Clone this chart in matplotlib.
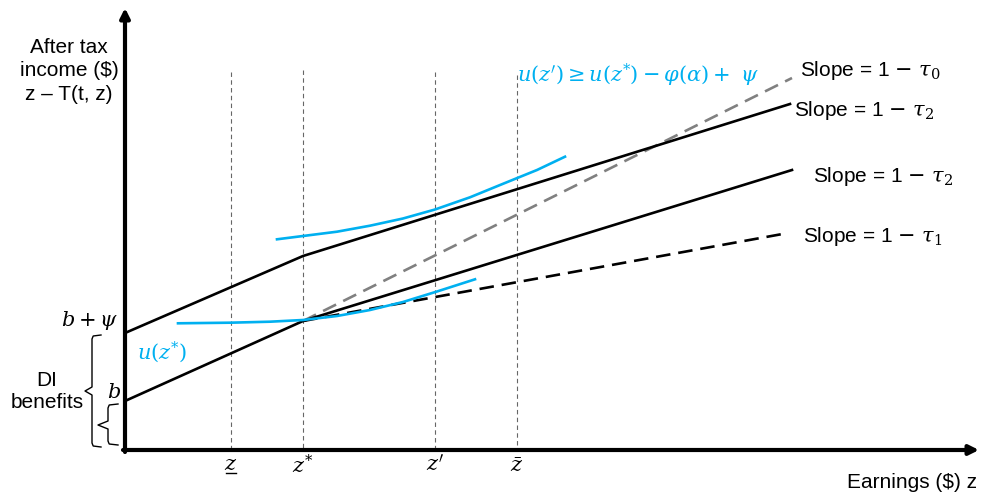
import matplotlib.pyplot as plt
import numpy as np

plt.rcParams['font.family'] = ['Liberation Sans', 'DejaVu Sans']
plt.rcParams['mathtext.fontset'] = 'dejavuserif'

BLUE = '#00b0f0'

# diagram read in pixel units (x to the right, y downward)
x_axis_left = 125
x_axis_y = 450
x_axis_tip = 979
y_axis_tip = 8

# marked earnings levels
z_marks = [231, 303, 435, 517]
z_labels = [r'$z$', r'$z^{*}$', r"$z'$", r'$\bar{z}$']
z_label_y = [464, 466, 465, 467]
z_tops = [72, 70, 72, 75]

# budget lines
upper_x = [125, 303, 790]
upper_y = [333, 256, 104]
lower_x = [125, 303, 792]
lower_y = [401, 321, 170]
tau0_x = [303, 792]
tau0_y = [321, 78]
tau1_x = [303, 788]
tau1_y = [321, 233]

# indifference curves
ic_hi_x = [277, 303, 337, 370, 403, 435, 470, 503, 537, 565]
ic_hi_y = [239.3, 236, 231.7, 225.7, 218.5, 209.5, 197.3, 183.8, 170, 156.7]
ic_lo_x = [178, 230, 270, 303, 337, 370, 403, 437, 475]
ic_lo_y = [323.3, 322.7, 321.7, 320, 316, 310, 302, 291.5, 279.3]

slope_labels = [r'Slope = 1 $-\ \tau_0$', r'Slope = 1 $-\ \tau_2$',
                r'Slope = 1 $-\ \tau_2$', r'Slope = 1 $-\ \tau_1$']
slope_x = [800, 794, 813, 803]
slope_y = [70, 110, 177, 236]

fig = plt.figure(figsize=(9.81, 5.0), dpi=100)
ax = fig.add_axes([0, 0, 1, 1])
ax.set_xlim(0, 981)
ax.set_ylim(500, 0)
ax.axis('off')

# vertical guides
for xm, top in zip(z_marks, z_tops):
    ax.plot([xm, xm], [top, x_axis_y], color='#666666', lw=0.8, dashes=(4, 3), zorder=1)

ax.plot(upper_x, upper_y, color='black', lw=1.9, zorder=3)
ax.plot(lower_x, lower_y, color='black', lw=1.9, zorder=3)
ax.plot(tau0_x, tau0_y, color='#808080', lw=1.9, dashes=(5.5, 3), zorder=2)
ax.plot(tau1_x, tau1_y, color='black', lw=1.9, dashes=(5.5, 3), zorder=2)
ax.plot(ic_hi_x, ic_hi_y, color=BLUE, lw=1.9, zorder=4, solid_joinstyle='round')
ax.plot(ic_lo_x, ic_lo_y, color=BLUE, lw=1.9, zorder=4, solid_joinstyle='round')

# axes with arrows
ax.annotate('', xy=(x_axis_tip, x_axis_y), xytext=(x_axis_left - 2, x_axis_y),
            arrowprops=dict(arrowstyle='-|>', lw=3, color='black', mutation_scale=14,
                            shrinkA=0, shrinkB=0))
ax.annotate('', xy=(x_axis_left, y_axis_tip), xytext=(x_axis_left, x_axis_y + 2),
            arrowprops=dict(arrowstyle='-|>', lw=3, color='black', mutation_scale=14,
                            shrinkA=0, shrinkB=0))


def brace(x_spine, x_tip, y_top, y_bot, y_mid, x_point):
    r = 4
    xs = [x_tip, x_spine + r * 0.3, x_spine, x_spine, x_point]
    ys = [y_top, y_top + 1, y_top + r, y_mid - r, y_mid]
    xs2 = [x_point, x_spine, x_spine, x_spine + r * 0.3, x_tip]
    ys2 = [y_mid, y_mid + r, y_bot - r, y_bot - 1, y_bot]
    ax.plot(xs + xs2[1:], ys + ys2[1:], color='black', lw=1.0)


brace(92, 101, 335, 447, 391, 85)
brace(108, 118, 404, 445, 425, 98)

for xm, lab, ly in zip(z_marks, z_labels, z_label_y):
    ax.text(xm, ly, lab, fontsize=15, ha='center', va='center')
# underline under the lower threshold
ax.plot([z_marks[0] - 5, z_marks[0] + 5], [473, 473], color='black', lw=1.0)

for lab, sx, sy in zip(slope_labels, slope_x, slope_y):
    ax.text(sx, sy, lab, fontsize=15, ha='left', va='center')

ax.text(517, 75, r"$u(z') \geq u(z^{*}) - \varphi(\alpha) +\ \psi$", color=BLUE,
        fontsize=15, ha='left', va='center')
ax.text(137, 352, r'$u(z^{*})$', color=BLUE, fontsize=15, ha='left', va='center')
ax.text(118, 320, r'$b + \psi$', fontsize=15, ha='right', va='center')
ax.text(121, 393, r'$b$', fontsize=15, ha='right', va='center')
ax.text(47, 392, 'DI\nbenefits', fontsize=15, ha='center', va='center', linespacing=1.2)
ax.text(69, 71, 'After tax\nincome ($)\nz \u2013 T(t, z)', fontsize=15, ha='center',
        va='center', linespacing=1.28)
ax.text(977, 483, 'Earnings ($) z', fontsize=15, ha='right', va='center')

plt.savefig('out.png', dpi=100)
